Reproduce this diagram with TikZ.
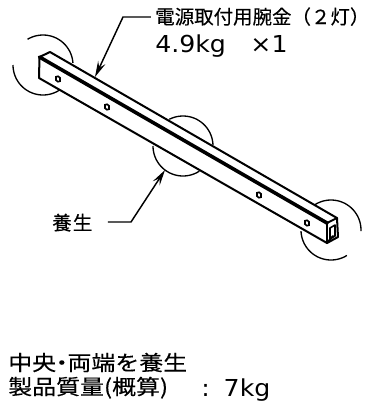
\documentclass[tikz,border=0pt]{standalone}
\usepackage{fontspec}
\setmainfont{DejaVu Sans}
\newfontfamily\cjk[FakeBold=0.25]{Noto Sans CJK JP}
\newfontfamily\cjkw[FakeStretch=1.14,FakeBold=0.15]{Noto Sans CJK JP}
\newfontfamily\latw[FakeStretch=1.08]{DejaVu Sans}
\usetikzlibrary{arrows.meta}
\tikzset{
  line/.style={line width=1.5pt,black,line cap=round,line join=round},
  heavy/.style={line width=2.7pt,black,line cap=round},
  thinarc/.style={line width=1pt,black},
  leader/.style={line width=1.1pt,black,line join=miter,-{Stealth[length=12pt,width=6pt,inset=4.5pt]}},
  jp/.style={inner sep=0pt,anchor=base west,font=\cjk\fontsize{14.6}{15}\selectfont},
  jpy/.style={jp,font=\cjk\fontsize{14.5}{15}\selectfont},
  jpw/.style={inner sep=0pt,anchor=base west,font=\cjkw\fontsize{15.75}{16}\selectfont},
  lat/.style={inner sep=0pt,anchor=base west,font=\latw\fontsize{17.5}{18}\selectfont},
  hole/.style={line width=1.2pt,black,fill=white},
}
\begin{document}
\begin{tikzpicture}[x=0.75pt,y=-0.75pt]
\useasboundingbox (0,0) rectangle (370,405);
% protective arcs
\draw[thinarc] plot[smooth,samples=30,domain=-121:-4] ({43+30*cos(\x)},{65+30*sin(\x)});
\draw[thinarc] plot[smooth,samples=30,domain=56:180] ({43+30*cos(\x)},{65+30*sin(\x)});
\draw[thinarc] plot[smooth,samples=30,domain=-117:-2] ({183+30*cos(\x)},{146+30*sin(\x)});
\draw[thinarc] plot[smooth,samples=30,domain=57:180] ({183+30*cos(\x)},{146+30*sin(\x)});
\draw[thinarc] plot[smooth,samples=30,domain=-122:2] ({331+30*cos(\x)},{230+30*sin(\x)});
\draw[thinarc] plot[smooth,samples=30,domain=58:178] ({331+30*cos(\x)},{230+30*sin(\x)});
% beam
\draw[line,fill=white] (39.5,57) -- (50,52) -- (337,218) -- (338,237) -- (327,243) -- (39,78) -- cycle;
\draw[heavy] (39.5,57) -- (327,223);
\draw[line] (327,223) -- (337,218);
\draw[line] (327,223) -- (327,243);
\draw[line,line width=1.2pt] (330,228) -- (335,225) -- (335,236) -- (330,239) -- cycle;
\draw[line] (327,243) -- (333,236);
% holes
\foreach \hx/\hy in {58/79,107/107,259/195,307/223}
  \draw[hole] (\hx,\hy-2.7) -- (\hx+2,\hy-1.2) -- (\hx+2,\hy+2.2) -- (\hx,\hy+2.7) -- (\hx-2,\hy+1.2) -- (\hx-2,\hy-2.2) -- cycle;
% labels
\node[jp] (title) at (155,24) {電源取付用腕金（２灯）};
\node[lat] (mass) at (155,52) {4.9kg\hspace{1.05em}×1};
\node[jpy] (yojo) at (52,230) {養\hspace{1pt}生};
\node[jpw] (note) at (8,370.5) {中央\hspace{-0.3em}・\hspace{-0.3em}両端を養生};
\node[jpw] (prod) at (8,394.5) {製品質量(概算)};
\node[lat] (pkg) at (201,396) {:\hspace{0.6em}7kg};
% leaders
\coordinate (ta) at (151,17);
\coordinate (tb) at (123,17);
\coordinate (tc) at (95,77);
\coordinate (ya) at (108,222);
\coordinate (yb) at (131,222);
\coordinate (yc) at (165,170);
\draw[leader] (ta) -- (tb) -- (tc);
\draw[leader] (ya) -- (yb) -- (yc);
\end{tikzpicture}
\end{document}
